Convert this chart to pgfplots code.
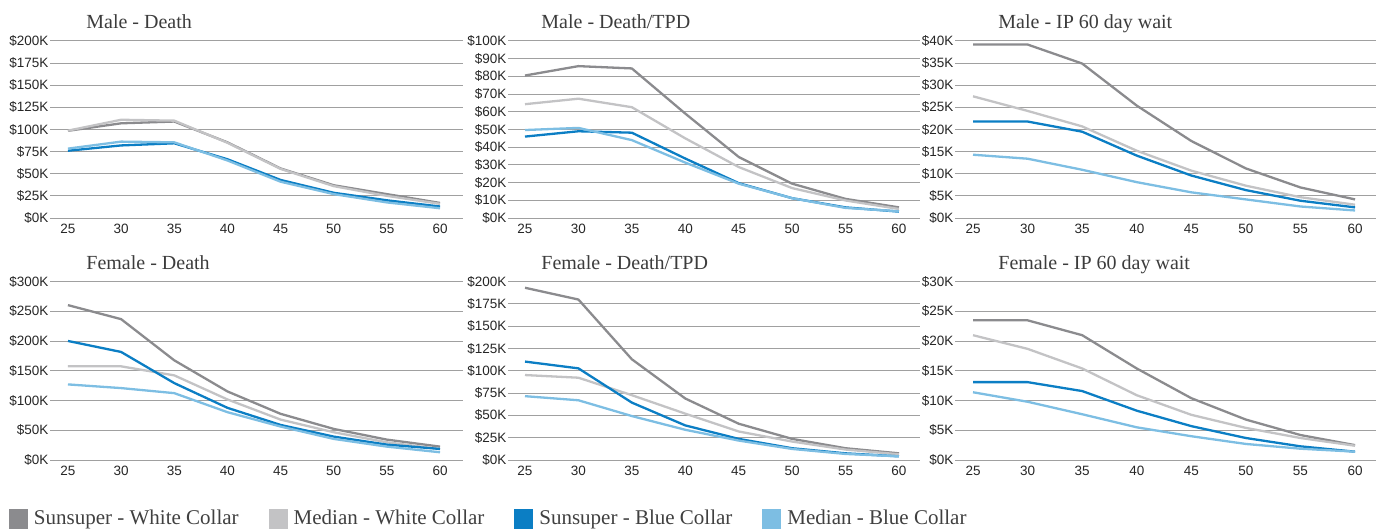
\documentclass[border=0pt]{standalone}
\usepackage{pgfplots}
\usepackage{pgfplotstable}
\pgfplotsset{compat=1.18}
\usepackage{fontspec}
\setmainfont{Liberation Sans}
\newfontfamily\serif{Liberation Serif}

\definecolor{cSW}{HTML}{8B8B8E}
\definecolor{cMW}{HTML}{C3C3C5}
\definecolor{cSB}{HTML}{0B7EC4}
\definecolor{cMB}{HTML}{7DBEE3}
\definecolor{gridc}{HTML}{A0A0A0}
\definecolor{titlec}{HTML}{3C3C3C}

\pgfplotstableread{
age sw mw sb mb
25 98.5 98.7 76 78.4
30 107 111 82 86.3
35 109 110 84.4 85.5
40 85.5 85 66.4 65
45 56 55.5 43 41
50 37 36 28.5 27
55 27 25 20 17.6
60 17 16 13 11
}\maleDeath
\pgfplotstableread{
age sw mw sb mb
25 80.5 64.3 46 49.7
30 85.8 67.4 49 50.9
35 84.5 62.6 48.2 44
40 59 45 33.6 31.3
45 34.5 28.8 19.7 19.4
50 19.4 16.9 11.2 11.2
55 10.8 9.9 6 5.7
60 6 5.1 3.6 3.8
}\maleTPD
\pgfplotstableread{
age sw mw sb mb
25 39.2 27.5 21.8 14.3
30 39.2 24.2 21.8 13.4
35 34.9 20.7 19.5 10.9
40 25.4 15.2 14.1 8.1
45 17.4 10.7 9.6 5.8
50 11.2 7.3 6.3 4.2
55 6.9 4.7 3.9 2.6
60 4.2 3.0 2.4 1.7
}\maleIP
\pgfplotstableread{
age sw mw sb mb
25 260.6 157.6 200.3 127.2
30 237 157.6 181.8 121
35 167.7 142.4 129.4 112.5
40 115.4 101.9 87.8 80.5
45 77.7 68 59 56.3
50 52.3 46.7 39.4 35.5
55 34.3 29.8 25.9 22.5
60 22.5 18.6 18.6 13
}\femDeath
\pgfplotstableread{
age sw mw sb mb
25 193.2 95.3 110.4 71.6
30 180 92.3 102.8 67
35 113 72.7 64.4 49.3
40 69 52 38.8 33.9
45 40.7 32 23.7 21.8
50 23.7 20.7 13.2 12.4
55 13.2 11.7 7.5 6.8
60 7.5 6.4 4.1 4.1
}\femTPD
\pgfplotstableread{
age sw mw sb mb
25 23.5 21 13.1 11.4
30 23.5 18.7 13.1 9.8
35 21 15.4 11.6 7.7
40 15.4 10.9 8.3 5.5
45 10.4 7.6 5.7 4.0
50 6.8 5.4 3.7 2.7
55 4.2 3.7 2.3 1.9
60 2.5 2.4 1.4 1.4
}\femIP

\pgfplotsset{
  panel/.style={
    scale only axis,
    axis line style={draw=none},
    major tick length=0pt,
    tick style={draw=none},
    ymajorgrids,
    grid style={gridc, line width=0.5pt},
    xtick={25,30,35,40,45,50,55,60},
    xticklabels={25,30,35,40,45,50,55,60},
    ticklabel style={font=\fontsize{6.75}{8}\selectfont, text=black!85},
    yticklabel style={anchor=east, inner xsep=0.6pt},
    xticklabel style={anchor=north, inner sep=0pt, yshift=-2.75pt},
    ymin=0,
    title style={at={(0,1)}, anchor=base west, yshift=0.35pt, inner sep=0pt,
      font=\serif\fontsize{10}{12}\selectfont, text=titlec},
    every axis plot/.append style={line width=1.15pt, line join=round, no markers},
    clip=false,
  },
  p1/.style={panel, width=206.5pt, xmin=23.31, xmax=62.16, title style={xshift=18pt}},
  p2/.style={panel, width=206pt, xmin=23.41, xmax=61.97, title style={xshift=16.5pt}},
  p3/.style={panel, width=210.5pt, xmin=23.35, xmax=61.92, title style={xshift=21.5pt}},
  top/.style={height=88.5pt},
  bot/.style={height=89.15pt},
}

\begin{document}
\begin{tikzpicture}
\useasboundingbox (0,0) rectangle (692pt,265.5pt);

% Male - Death
\begin{axis}[p1, top, at={(25pt,156.5pt)}, anchor=south west,
  title={Male - Death}, ymax=200, ytick={0,25,...,200},
  yticklabels={\$0K,\$25K,\$50K,\$75K,\$100K,\$125K,\$150K,\$175K,\$200K}]
  \addplot[cSW] table[x=age,y=sw]{\maleDeath};
  \addplot[cMW] table[x=age,y=mw]{\maleDeath};
  \addplot[cSB] table[x=age,y=sb]{\maleDeath};
  \addplot[cMB] table[x=age,y=mb]{\maleDeath};
\end{axis}

% Male - Death/TPD
\begin{axis}[p2, top, at={(254pt,156.5pt)}, anchor=south west,
  title={Male - Death/TPD}, ymax=100, ytick={0,10,...,100},
  yticklabels={\$0K,\$10K,\$20K,\$30K,\$40K,\$50K,\$60K,\$70K,\$80K,\$90K,\$100K}]
  \addplot[cSW] table[x=age,y=sw]{\maleTPD};
  \addplot[cMW] table[x=age,y=mw]{\maleTPD};
  \addplot[cSB] table[x=age,y=sb]{\maleTPD};
  \addplot[cMB] table[x=age,y=mb]{\maleTPD};
\end{axis}

% Male - IP
\begin{axis}[p3, top, at={(477.5pt,156.5pt)}, anchor=south west,
  title={Male - IP 60 day wait}, ymax=40, ytick={0,5,...,40},
  yticklabels={\$0K,\$5K,\$10K,\$15K,\$20K,\$25K,\$30K,\$35K,\$40K}]
  \addplot[cSW] table[x=age,y=sw]{\maleIP};
  \addplot[cMW] table[x=age,y=mw]{\maleIP};
  \addplot[cSB] table[x=age,y=sb]{\maleIP};
  \addplot[cMB] table[x=age,y=mb]{\maleIP};
\end{axis}

% Female - Death (with legend)
\begin{axis}[p1, bot, at={(25pt,35.5pt)}, anchor=south west,
  title={Female - Death}, ymax=300, ytick={0,50,...,300},
  yticklabels={\$0K,\$50K,\$100K,\$150K,\$200K,\$250K,\$300K},
  legend columns=4,
  legend image code/.code={\fill[#1, draw=none] (0pt,-5pt) rectangle (9.5pt,5pt);},
  legend style={draw=none, fill=none, inner sep=0pt, outer sep=0pt,
    at={(-0.0993,-0.331)}, anchor=west,
    font=\serif\fontsize{10.5}{12}\selectfont, text=black!75,
    nodes={inner xsep=3pt, inner ysep=0pt},
    /tikz/every even column/.append style={column sep=12pt}},
  legend cell align=left]
  \addplot[cSW] table[x=age,y=sw]{\femDeath};
  \addlegendentry{Sunsuper - White Collar}
  \addplot[cMW] table[x=age,y=mw]{\femDeath};
  \addlegendentry{Median - White Collar}
  \addplot[cSB] table[x=age,y=sb]{\femDeath};
  \addlegendentry{Sunsuper - Blue Collar}
  \addplot[cMB] table[x=age,y=mb]{\femDeath};
  \addlegendentry{Median - Blue Collar}
\end{axis}

% Female - Death/TPD
\begin{axis}[p2, bot, at={(254pt,35.5pt)}, anchor=south west,
  title={Female - Death/TPD}, ymax=200, ytick={0,25,...,200},
  yticklabels={\$0K,\$25K,\$50K,\$75K,\$100K,\$125K,\$150K,\$175K,\$200K}]
  \addplot[cSW] table[x=age,y=sw]{\femTPD};
  \addplot[cMW] table[x=age,y=mw]{\femTPD};
  \addplot[cSB] table[x=age,y=sb]{\femTPD};
  \addplot[cMB] table[x=age,y=mb]{\femTPD};
\end{axis}

% Female - IP
\begin{axis}[p3, bot, at={(477.5pt,35.5pt)}, anchor=south west,
  title={Female - IP 60 day wait}, ymax=30, ytick={0,5,...,30},
  yticklabels={\$0K,\$5K,\$10K,\$15K,\$20K,\$25K,\$30K}]
  \addplot[cSW] table[x=age,y=sw]{\femIP};
  \addplot[cMW] table[x=age,y=mw]{\femIP};
  \addplot[cSB] table[x=age,y=sb]{\femIP};
  \addplot[cMB] table[x=age,y=mb]{\femIP};
\end{axis}
\end{tikzpicture}
\end{document}
